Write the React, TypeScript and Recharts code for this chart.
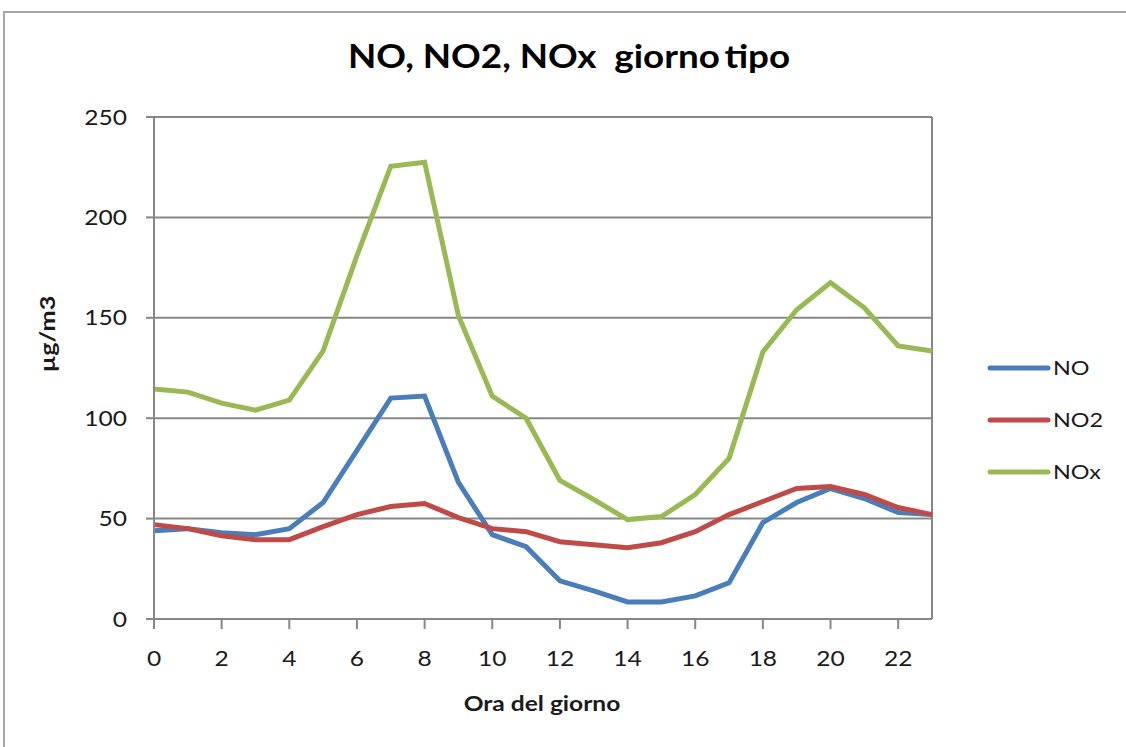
import React from 'react';
import { LineChart, Line, XAxis, YAxis, CartesianGrid, Legend, ReferenceLine, Label } from 'recharts';

// Hourly typical-day averages (µg/m3)
const hours = [0, 1, 2, 3, 4, 5, 6, 7, 8, 9, 10, 11, 12, 13, 14, 15, 16, 17, 18, 19, 20, 21, 22, 23];
const noValues = [44, 45, 43, 42, 45, 58, 84, 110, 111, 68, 42, 36, 19, 14, 8.5, 8.5, 11.5, 18, 48, 58, 65, 60, 53, 52];
const no2Values = [47, 45, 41.5, 39.5, 39.5, 46, 52, 56, 57.5, 50.5, 45, 43.5, 38.5, 37, 35.5, 38, 43.5, 52, 58.5, 65, 66, 62, 55.5, 52];
const noxValues = [114.5, 113, 107.5, 104, 109, 133.5, 181, 225.5, 227.5, 151, 111, 100, 69, 59.5, 49.5, 51, 62, 80, 133, 154, 167.5, 155, 136, 133.5];
const xTicks = [0, 2, 4, 6, 8, 10, 12, 14, 16, 18, 20, 22];
const yTicks = [0, 50, 100, 150, 200, 250];

const seriesInfo = [
  { key: 'NO', color: '#4A7EBB' },
  { key: 'NO2', color: '#BE4B48' },
  { key: 'NOx', color: '#98B954' },
];

const data = hours.map((h, i) => ({
  hour: h,
  NO: noValues[i],
  NO2: no2Values[i],
  NOx: noxValues[i],
}));

const FONT = 'Lato, "Open Sans", sans-serif';
const GRID = '#878787';
const TEXT = '#1a1a1a';
const STRETCH = 1.17; // wide lettering of the sheet's typeface

// Text drawn at an anchor point, widened horizontally around that point
const WideText = ({ x, y, anchor, size, bold, children, fill = TEXT }: any) => (
  <text
    x={0}
    y={0}
    transform={`translate(${x},${y}) scale(${STRETCH},1)`}
    textAnchor={anchor}
    fontFamily={FONT}
    fontSize={size}
    fontWeight={bold ? 700 : 400}
    fill={fill}
  >
    {children}
  </text>
);

const XTick = ({ x, y, payload }: any) => (
  <WideText x={x} y={y + 37} anchor="middle" size={21}>
    {payload.value}
  </WideText>
);

const YTick = ({ x, y, payload }: any) => (
  <WideText x={x} y={y + 7.5} anchor="end" size={21}>
    {payload.value}
  </WideText>
);

const LegendBox = ({ payload }: any) => (
  <svg width={141} height={160} style={{ display: 'block', overflow: 'visible' }}>
    {(payload || []).map((p: any, i: number) => {
      const cy = 26 + i * 52;
      return (
        <g key={p.value}>
          <line x1={5} y1={cy} x2={63} y2={cy} stroke={p.color} strokeWidth={5} strokeLinecap="round" />
          <WideText x={68} y={cy + 7} anchor="start" size={20}>
            {p.value}
          </WideText>
        </g>
      );
    })}
  </svg>
);

export default function App() {
  return (
    <div style={{ position: 'fixed', left: 0, top: 0, width: 1126, height: 747, overflow: 'hidden', background: '#fff' }}>
      <div style={{ position: 'absolute', left: 3, top: 11, width: 2, height: 740, background: '#a6a6a6' }} />
      <div style={{ position: 'absolute', left: 3, top: 11, width: 1130, height: 2, background: '#a6a6a6' }} />
      <div style={{ position: 'absolute', left: 0, top: 0 }}>
        <LineChart
          width={1126}
          height={747}
          data={data}
          margin={{ top: 117, right: 194, bottom: 98, left: 0 }}
        >
          <text
            x={0}
            y={0}
            transform="translate(569,68) scale(1.15,1)"
            textAnchor="middle"
            fontFamily={FONT}
            fontSize={32}
            fontWeight={700}
            fill="#000"
            style={{ whiteSpace: 'pre' }}
          >
            {'NO, NO2, NOx  giorno'}
            <tspan dx={4}>tipo</tspan>
          </text>
          <CartesianGrid vertical={false} stroke={GRID} strokeWidth={2} />
          <XAxis
            dataKey="hour"
            type="number"
            domain={[0, 23]}
            ticks={xTicks}
            height={30}
            axisLine={{ stroke: GRID, strokeWidth: 2 }}
            tickLine={{ stroke: GRID, strokeWidth: 2 }}
            tickSize={10}
            tickMargin={0}
            tick={<XTick />}
          >
            <Label
              content={() => (
                <WideText x={542} y={711} anchor="middle" size={21} bold>
                  Ora del giorno
                </WideText>
              )}
            />
          </XAxis>
          <YAxis
            type="number"
            domain={[0, 250]}
            ticks={yTicks}
            width={154}
            axisLine={{ stroke: GRID, strokeWidth: 2 }}
            tickLine={{ stroke: GRID, strokeWidth: 2 }}
            tickSize={8}
            tickMargin={19}
            tick={<YTick />}
          >
            <Label
              content={() => (
                <text
                  x={0}
                  y={0}
                  transform="translate(55,334) rotate(-90) scale(1.2,1)"
                  textAnchor="middle"
                  fontFamily={FONT}
                  fontWeight={700}
                  fontSize={21}
                  fill={TEXT}
                >
                  µg/m3
                </text>
              )}
            />
          </YAxis>
          <ReferenceLine x={23} stroke={GRID} strokeWidth={2} ifOverflow="visible" />
          {seriesInfo.map((s) => (
            <Line
              key={s.key}
              type="linear"
              dataKey={s.key}
              name={s.key}
              stroke={s.color}
              strokeWidth={5}
              dot={false}
              activeDot={false}
              isAnimationActive={false}
            />
          ))}
          <Legend
            content={<LegendBox />}
            layout="vertical"
            align="center"
            verticalAlign="middle"
            wrapperStyle={{ position: 'absolute', left: 985, top: 342, width: 141, height: 160 }}
          />
        </LineChart>
      </div>
    </div>
  );
}
